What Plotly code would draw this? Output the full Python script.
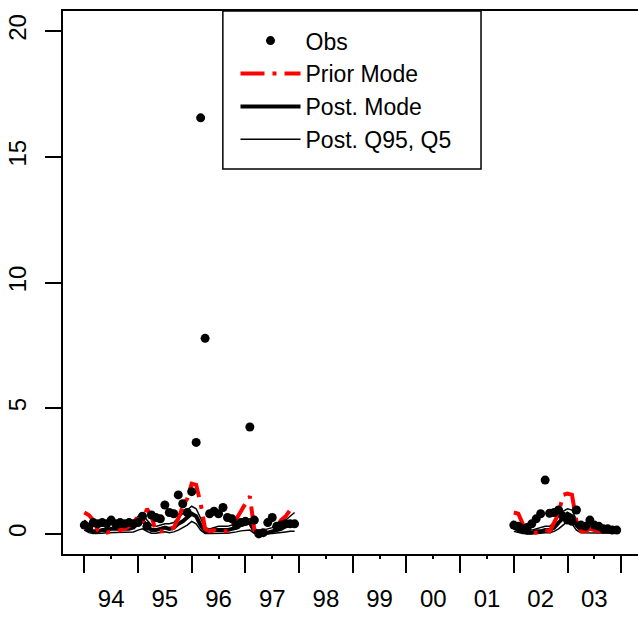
import plotly.graph_objects as go

# ---------------- data (monthly, 1994-1997 and 2002-2003) ----------------
obs_a = [0.35, 0.25, 0.45, 0.40, 0.45, 0.40, 0.55, 0.40, 0.45, 0.40, 0.45, 0.40,
         0.45, 0.70, 0.30, 0.75, 0.65, 0.60, 1.15, 0.85, 0.80, 1.55, 1.20, 0.85,
         1.68, 3.64, 16.55, 7.78, 0.80, 0.90, 0.80, 1.05, 0.65, 0.60, 0.35, 0.45,
         0.50, 4.25, 0.55, 0.00, 0.05, 0.45, 0.65, 0.30, 0.35, 0.40, 0.40, 0.40]
obs_b = [0.35, 0.30, 0.20, 0.25, 0.40, 0.60, 0.80, 2.14, 0.82, 0.85, 0.95, 0.70,
         0.55, 0.50, 0.95, 0.35, 0.30, 0.55, 0.35, 0.30, 0.20, 0.20, 0.15, 0.15]

prior_a = [0.85, 0.75, 0.55, 0.15, 0.05, 0.05, 0.10, 0.10, 0.15, 0.20, 0.30, 0.45,
           0.70, 0.45, 1.00, 0.70, 0.10, 0.10, 0.10, 0.15, 0.25, 0.60, 1.10, 1.40,
           2.00, 1.95, 1.20, 0.20, 0.10, 0.15, 0.10, 0.10, 0.10, 0.30, 0.60, 0.95,
           1.25, 1.50, 0.15, 0.10, 0.10, 0.10, 0.15, 0.30, 0.55, 0.70, 0.95, 0.85]
prior_b = [0.85, 0.80, 0.40, 0.05, 0.05, 0.05, 0.10, 0.15, 0.10, 0.45, 0.80, 1.55,
           1.60, 1.55, 0.50, 0.10, 0.10, 0.20, 0.15, 0.10, 0.10, 0.10, 0.15, 0.35]

post_a = [0.30, 0.15, 0.10, 0.10, 0.15, 0.15, 0.20, 0.20, 0.20, 0.20, 0.20, 0.25,
          0.45, 0.55, 0.30, 0.15, 0.15, 0.20, 0.25, 0.20, 0.25, 0.40, 0.50, 0.65,
          0.80, 0.70, 0.35, 0.10, 0.10, 0.15, 0.15, 0.15, 0.15, 0.20, 0.25, 0.35,
          0.40, 0.45, 0.10, 0.05, 0.05, 0.05, 0.10, 0.15, 0.20, 0.30, 0.35, 0.40]
post_b = [0.25, 0.15, 0.10, 0.05, 0.05, 0.10, 0.10, 0.15, 0.15, 0.25, 0.45, 0.65,
          0.80, 0.70, 0.35, 0.15, 0.15, 0.20, 0.20, 0.15, 0.10, 0.10, 0.10, 0.10]

q95_a = [0.55, 0.40, 0.30, 0.30, 0.35, 0.35, 0.40, 0.40, 0.40, 0.40, 0.45, 0.50,
         0.70, 0.80, 0.55, 0.35, 0.30, 0.35, 0.40, 0.40, 0.45, 0.65, 0.80, 0.95,
         1.10, 1.00, 0.60, 0.25, 0.20, 0.25, 0.30, 0.30, 0.30, 0.35, 0.40, 0.50,
         0.55, 0.60, 0.20, 0.15, 0.15, 0.20, 0.25, 0.35, 0.45, 0.55, 0.70, 0.85]
q95_b = [0.45, 0.30, 0.25, 0.15, 0.15, 0.20, 0.25, 0.30, 0.30, 0.45, 0.70, 0.90,
         1.00, 0.95, 0.55, 0.30, 0.30, 0.35, 0.35, 0.30, 0.25, 0.20, 0.20, 0.20]

q5_a = [0.15, 0.05, 0.02, 0.02, 0.03, 0.05, 0.05, 0.05, 0.05, 0.05, 0.05, 0.08,
        0.15, 0.20, 0.10, 0.03, 0.03, 0.05, 0.08, 0.05, 0.08, 0.15, 0.25, 0.35,
        0.50, 0.40, 0.15, 0.02, 0.02, 0.03, 0.03, 0.03, 0.03, 0.05, 0.08, 0.12,
        0.15, 0.15, 0.02, 0.01, 0.01, 0.01, 0.02, 0.03, 0.05, 0.08, 0.10, 0.10]
q5_b = [0.10, 0.05, 0.02, 0.01, 0.01, 0.02, 0.03, 0.05, 0.05, 0.10, 0.20, 0.35,
        0.50, 0.40, 0.15, 0.05, 0.05, 0.05, 0.05, 0.05, 0.03, 0.03, 0.03, 0.03]

start_a, start_b = 1994, 2002
year_ticks = list(range(1994, 2005))
year_labels = ["94", "95", "96", "97", "98", "99", "00", "01", "02", "03"]
y_ticks = [0, 5, 10, 15, 20]

# ---------------- build ----------------
x_a = [start_a + i / 12 for i in range(len(obs_a))]
x_b = [start_b + i / 12 for i in range(len(obs_b))]
xs = x_a + [None] + x_b


def join(a, b):
    return a + [None] + b


FONT = "Liberation Sans, Arial, sans-serif"
fig = go.Figure()

fig.add_trace(go.Scatter(x=xs, y=join(q95_a, q95_b), mode="lines",
                         line=dict(color="black", width=1.5),
                         name="Post. Q95, Q5", legendrank=4))
fig.add_trace(go.Scatter(x=xs, y=join(q5_a, q5_b), mode="lines",
                         line=dict(color="black", width=1.5),
                         showlegend=False))
fig.add_trace(go.Scatter(x=xs, y=join(post_a, post_b), mode="lines",
                         line=dict(color="black", width=4),
                         name="Post. Mode", legendrank=3))
fig.add_trace(go.Scatter(x=xs, y=join(prior_a, prior_b), mode="lines",
                         line=dict(color="red", width=4, dash="24px,8px,4px,8px"),
                         name="Prior Mode", legendrank=2))
fig.add_trace(go.Scatter(x=xs, y=join(obs_a, obs_b), mode="markers",
                         marker=dict(color="black", size=9),
                         name="Obs", legendrank=1))

mid_years = [y + 0.5 for y in year_ticks[:-1]]

fig.update_layout(
    width=638, height=619,
    margin=dict(l=63, r=0, t=11, b=65),
    plot_bgcolor="white", paper_bgcolor="white",
    font=dict(family=FONT, size=24, color="black"),
    showlegend=True,
    legend=dict(x=0.30, y=0.985, xanchor="left", yanchor="top",
                bgcolor="rgba(0,0,0,0)", borderwidth=0,
                font=dict(family=FONT, size=23, color="black"),
                itemwidth=60, itemsizing="trace", tracegroupgap=0),
    xaxis=dict(range=[1993.603, 2004.313], showgrid=False, zeroline=False,
               showline=True, linecolor="black", linewidth=1.5, mirror=True,
               tickmode="array", tickvals=mid_years, ticktext=year_labels,
               ticks="outside", ticklen=3, tickwidth=1.5, tickcolor="black",
               ticklabelstandoff=19,
               minor=dict(tickmode="array", tickvals=year_ticks, ticks="outside",
                          ticklen=17, tickwidth=1.5, tickcolor="black",
                          showgrid=False)),
    yaxis=dict(range=[-0.8, 20.8], showgrid=False, zeroline=False,
               showline=True, linecolor="black", linewidth=1.5,
               tickmode="array", tickvals=y_ticks,
               ticks="outside", ticklen=16, tickwidth=1.5, tickcolor="black",
               tickangle=-90, ticklabelstandoff=10),
    shapes=[dict(type="rect", xref="paper", yref="paper",
                 x0=0.278, x1=0.727, y0=0.709, y1=1.0,
                 line=dict(color="black", width=1.5), fillcolor="rgba(0,0,0,0)",
                 layer="above")],
)

fig.write_html("out.html")
